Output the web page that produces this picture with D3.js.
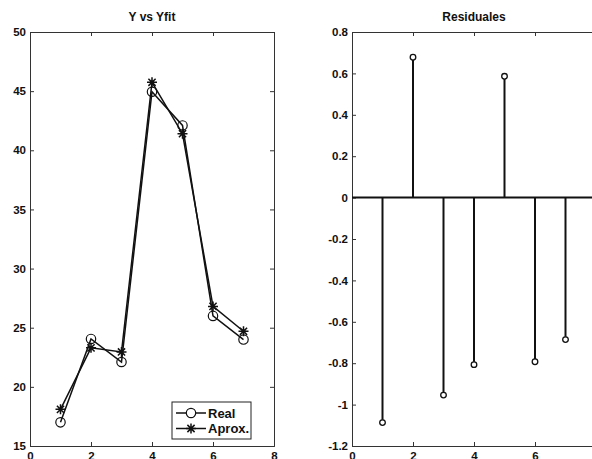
<!DOCTYPE html>
<html>
<head>
<meta charset="utf-8">
<script src="https://cdn.jsdelivr.net/npm/d3@7"></script>
<style>
  body { margin: 0; background: #fff; }
  svg text { font-family: "Liberation Sans", Arial, sans-serif; font-weight: bold; fill: #111; }
</style>
</head>
<body>
<div id="graph"></div>
<script>
/* values */
const xs = [1, 2, 3, 4, 5, 6, 7];
const real = [17.0, 24.05, 22.1, 44.95, 42.1, 26.0, 24.0];
const aprox = [18.1, 23.3, 22.95, 45.75, 41.4, 26.8, 24.7];
const resid = [-1.087, 0.678, -0.954, -0.807, 0.586, -0.793, -0.686];

const xTicks = [0, 2, 4, 6, 8];
const yTicksLeft = [15, 20, 25, 30, 35, 40, 45, 50];
const yTicksRight = [-1.2, -1, -0.8, -0.6, -0.4, -0.2, 0, 0.2, 0.4, 0.6, 0.8];
const legendNames = ["Real", "Aprox."];

const W = 592, H = 459;
const svg = d3.select("#graph").append("svg").attr("width", W).attr("height", H);

// asterisk marker like matlab '*'
function star(s) {
    const d = s * 0.72;
    return "M" + (-s) + ",0L" + s + ",0M0," + (-s) + "L0," + s +
        "M" + (-d) + "," + (-d) + "L" + d + "," + d +
        "M" + (-d) + "," + d + "L" + d + "," + (-d);
}

function box(g, x, y, yTicks, fmt, left, right, top, bottom) {
    const ax = (a) => a.tickSizeOuter(0).tickSize(-4).tickPadding(4);
    g.append("g").attr("transform", "translate(0," + bottom + ")")
        .call(ax(d3.axisBottom(x).tickValues(xTicks).tickFormat(d => d)).tickPadding(6));
    g.append("g").attr("transform", "translate(0," + top + ")")
        .call(ax(d3.axisTop(x).tickValues(xTicks).tickFormat("")));
    g.append("g").attr("transform", "translate(" + left + ",0)")
        .call(ax(d3.axisLeft(y).tickValues(yTicks).tickFormat(fmt)));
    g.append("g").attr("transform", "translate(" + right + ",0)")
        .call(ax(d3.axisRight(y).tickValues(yTicks).tickFormat("")));
    g.selectAll(".domain").attr("stroke", "#333");
    g.selectAll(".tick line").attr("stroke", "#333");
    g.selectAll(".tick text").style("font-size", "11.5px").attr("fill", "#111");
}

/* left plot: Y vs Yfit */
const L = { left: 30, right: 274, top: 32, bottom: 446 };
const xL = d3.scaleLinear().domain([0, 8]).range([L.left, L.right]);
const yL = d3.scaleLinear().domain([15, 50]).range([L.bottom, L.top]);
const gL = svg.append("g");
box(gL, xL, yL, yTicksLeft, d => d, L.left, L.right, L.top, L.bottom);

const line = d3.line().x((d, i) => xL(xs[i])).y(d => yL(d));
gL.append("path").datum(real).attr("d", line)
    .attr("fill", "none").attr("stroke", "#111").attr("stroke-width", 1.5);
gL.append("path").datum(aprox).attr("d", line)
    .attr("fill", "none").attr("stroke", "#111").attr("stroke-width", 1.5);

gL.selectAll("circle.real").data(real).enter().append("circle")
    .attr("cx", (d, i) => xL(xs[i])).attr("cy", d => yL(d)).attr("r", 4.7)
    .attr("fill", "none").attr("stroke", "#111").attr("stroke-width", 1.2);
gL.selectAll("path.star").data(aprox).enter().append("path")
    .attr("transform", (d, i) => "translate(" + xL(xs[i]) + "," + yL(d) + ")")
    .attr("d", star(5)).attr("stroke", "#111").attr("stroke-width", 1.5);

gL.append("text").attr("x", (L.left + L.right) / 2).attr("y", 21)
    .attr("text-anchor", "middle").style("font-size", "12px").text("Y vs Yfit");

// legend
const lg = gL.append("g").attr("transform", "translate(172,402)");
lg.append("rect").attr("width", 79).attr("height", 37)
    .attr("fill", "#fff").attr("stroke", "#222").attr("stroke-width", 1);
legendNames.forEach(function (name, i) {
    const yy = 11 + i * 15.5;
    lg.append("line").attr("x1", 4).attr("x2", 34).attr("y1", yy).attr("y2", yy)
        .attr("stroke", "#111").attr("stroke-width", 1.5);
    if (i == 0) {
        lg.append("circle").attr("cx", 19).attr("cy", yy).attr("r", 4.7)
            .attr("fill", "#fff").attr("stroke", "#111").attr("stroke-width", 1.2);
    } else {
        lg.append("path").attr("transform", "translate(19," + yy + ")")
            .attr("d", star(5)).attr("stroke", "#111").attr("stroke-width", 1.5);
    }
    lg.append("text").attr("x", 36).attr("y", yy + 4.5).style("font-size", "13px").text(name);
});

/* right plot: Residuales */
const R = { left: 352, right: 596, top: 32, bottom: 446 };
const xR = d3.scaleLinear().domain([0, 8]).range([R.left, R.right]);
const yR = d3.scaleLinear().domain([-1.2, 0.8]).range([R.bottom, R.top]);
const gR = svg.append("g");
box(gR, xR, yR, yTicksRight, d => String(+d.toFixed(1)), R.left, R.right, R.top, R.bottom);

gR.append("line").attr("x1", xR(0)).attr("x2", xR(8)).attr("y1", yR(0)).attr("y2", yR(0))
    .attr("stroke", "#111").attr("stroke-width", 2);
gR.selectAll("line.stem").data(resid).enter().append("line")
    .attr("x1", (d, i) => xR(xs[i])).attr("x2", (d, i) => xR(xs[i]))
    .attr("y1", yR(0)).attr("y2", d => yR(d))
    .attr("stroke", "#111").attr("stroke-width", 2);
gR.selectAll("circle.mk").data(resid).enter().append("circle")
    .attr("cx", (d, i) => xR(xs[i])).attr("cy", d => yR(d)).attr("r", 2.8)
    .attr("fill", "#fff").attr("stroke", "#111").attr("stroke-width", 1.3);

gR.append("text").attr("x", (R.left + R.right) / 2).attr("y", 21)
    .attr("text-anchor", "middle").style("font-size", "12px").text("Residuales");
</script>
</body>
</html>
